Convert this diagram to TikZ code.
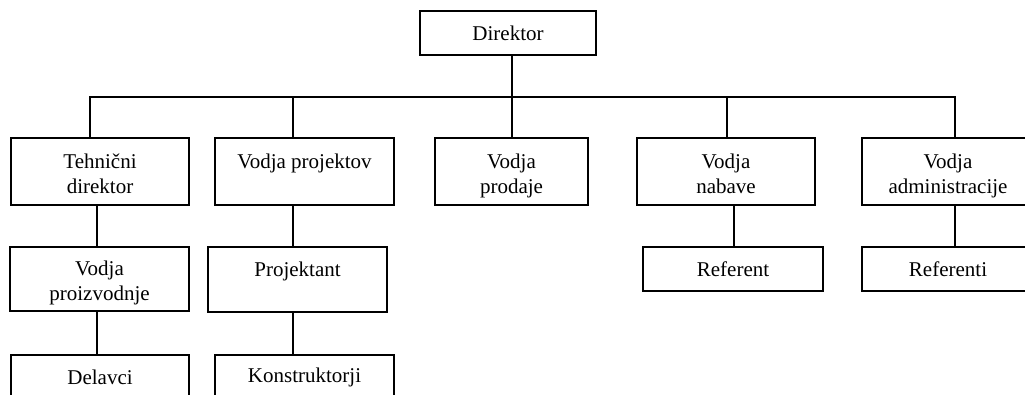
\documentclass[tikz,border=0pt]{standalone}
\usepackage{fontspec}
\setmainfont{Liberation Serif}
\newcommand\liftlines[1]{\raisebox{-4pt}[\height][\depth]{\begin{tabular}{@{}c@{}}#1\end{tabular}}}
\begin{document}
\begin{tikzpicture}[x=1pt,y=-1pt,
  box/.style={draw=black, line width=2pt, rectangle, inner sep=0pt,
    font=\fontsize{21}{25}\selectfont},
  wire/.style={draw=black, line width=2pt}]
\useasboundingbox (0,0) rectangle (1025,394);
\clip (0,0) rectangle (1025,394);
% level 1
\node[box, minimum width=176pt, minimum height=44pt] (dir) at (508,33) {Direktor};
% level 2
\node[box, minimum width=178pt, minimum height=67pt] (t1) at (100,171.5) {\liftlines{Tehnični\\direktor}};
\node[box, minimum width=179pt, minimum height=67pt] (t2) at (304.5,171.5) {\liftlines{Vodja projektov\\\mbox{}}};
\node[box, minimum width=153pt, minimum height=67pt] (t3) at (511.5,171.5) {\liftlines{Vodja\\prodaje}};
\node[box, minimum width=178pt, minimum height=67pt] (t4) at (726,171.5) {\liftlines{Vodja\\nabave}};
\node[box, minimum width=172pt, minimum height=67pt] (t5) at (948,171.5) {\liftlines{Vodja\\administracije}};
% level 3
\node[box, minimum width=179pt, minimum height=64pt] (p1) at (99.5,279) {\liftlines{Vodja\\proizvodnje}};
\node[box, minimum width=179pt, minimum height=65pt] (p2) at (297.5,279.5) {\liftlines{Projektant\\\mbox{}}};
\node[box, minimum width=180pt, minimum height=44pt] (p4) at (733,269) {Referent};
\node[box, minimum width=172pt, minimum height=44pt] (p5) at (948,269) {Referenti};
% level 4
\node[box, minimum width=178pt, minimum height=44pt] (d1) at (100,377) {Delavci};
\node[box, minimum width=179pt, minimum height=44pt] (d2) at (304.5,377) {Konstruktorji};
% connector x positions
\coordinate (bus) at (512,97);
\coordinate (b1) at (90,0);
\coordinate (b2) at (293,0);
\coordinate (b4) at (727,0);
\coordinate (b5) at (955,0);
\coordinate (c1) at (97,0);
\coordinate (c2) at (293,0);
\coordinate (c4) at (734,0);
\coordinate (c5) at (955,0);
% bus
\draw[wire] (dir.south -| bus) -- (t3.north -| bus);
\draw[wire] (t1.north -| b1) |- (bus) -| (t5.north -| b5);
\draw[wire] (bus -| b2) -- (t2.north -| b2);
\draw[wire] (bus -| b4) -- (t4.north -| b4);
% lower connectors
\draw[wire] (t1.south -| c1) -- (p1.north -| c1);
\draw[wire] (p1.south -| c1) -- (d1.north -| c1);
\draw[wire] (t2.south -| c2) -- (p2.north -| c2);
\draw[wire] (p2.south -| c2) -- (d2.north -| c2);
\draw[wire] (t4.south -| c4) -- (p4.north -| c4);
\draw[wire] (t5.south -| c5) -- (p5.north -| c5);
\end{tikzpicture}
\end{document}
